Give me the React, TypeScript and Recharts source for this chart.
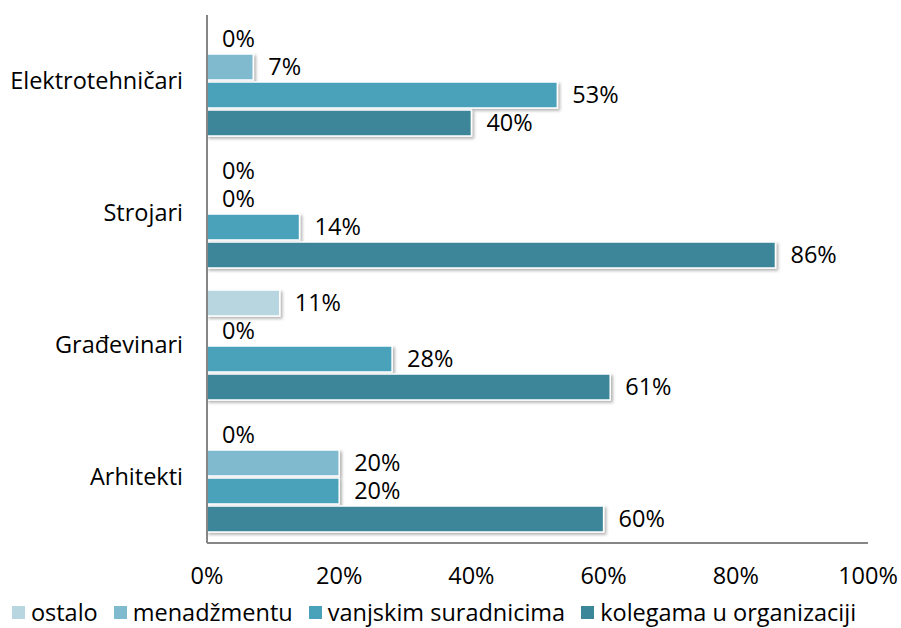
import React from "react";
import { BarChart, Bar, XAxis, YAxis, Legend, LabelList } from "recharts";

const categories = ["Elektrotehničari", "Strojari", "Građevinari", "Arhitekti"];
const ostalo = [0, 0, 11, 0];
const menadzmentu = [7, 0, 0, 20];
const vanjskim = [53, 14, 28, 20];
const kolegama = [40, 86, 61, 60];
const xTicks = [0, 20, 40, 60, 80, 100];

const series = [
  { key: "ostalo", name: "ostalo", color: "#B7D6E0" },
  { key: "menadzmentu", name: "menadžmentu", color: "#7FBACE" },
  { key: "vanjskim", name: "vanjskim suradnicima", color: "#4AA2BA" },
  { key: "kolegama", name: "kolegama u organizaciji", color: "#3C8699" },
];

const data = categories.map((c, i) => ({
  name: c,
  ostalo: ostalo[i],
  menadzmentu: menadzmentu[i],
  vanjskim: vanjskim[i],
  kolegama: kolegama[i],
}));

const FONT = "'Open Sans', sans-serif";
const FS = 23.5;

const ShadowBar = (props: any) => {
  const { x, y, width, height, fill } = props;
  if (!width || width <= 0) return null;
  return (
    <rect
      x={x}
      y={y}
      width={width}
      height={height}
      fill={fill}
      stroke="#ffffff"
      strokeWidth={1.5}
      filter="url(#barShadow)"
    />
  );
};

const LegendContent = () => (
  <div
    style={{
      display: "flex",
      justifyContent: "center",
      alignItems: "center",
      fontFamily: FONT,
      fontSize: FS,
      lineHeight: "28px",
      color: "#000",
      gap: 16,
      whiteSpace: "nowrap",
      marginTop: 2,
    }}
  >
    {series.map((s) => (
      <span key={s.key} style={{ display: "flex", alignItems: "center" }}>
        <span
          style={{ display: "inline-block", width: 13, height: 13, background: s.color, marginRight: 6 }}
        />
        {s.name}
      </span>
    ))}
  </div>
);

export default function App() {
  return (
    <div style={{ position: "absolute", left: 0, top: 0, background: "#fff" }}>
      <BarChart
        width={901}
        height={628}
        data={data}
        layout="vertical"
        margin={{ top: 15, right: 33, bottom: 2, left: 0 }}
        barSize={26}
        barGap={2}
      >
        <defs>
          <filter id="barShadow" x="-10%" y="-30%" width="130%" height="180%">
            <feDropShadow dx="2" dy="2" stdDeviation="1.5" floodColor="#000" floodOpacity="0.3" />
          </filter>
        </defs>
        <XAxis
          type="number"
          domain={[0, 100]}
          ticks={xTicks}
          tickFormatter={(v) => `${v}%`}
          axisLine={{ stroke: "#868686", strokeWidth: 2 }}
          tickLine={false}
          tickSize={0}
          tickMargin={24}
          height={53}
          tick={{ fill: "#000", fontSize: FS, fontFamily: FONT }}
        />
        <YAxis
          type="category"
          dataKey="name"
          width={207}
          axisLine={{ stroke: "#868686", strokeWidth: 2 }}
          tickLine={false}
          tickSize={0}
          tickMargin={24}
          tick={{ fill: "#000", fontSize: FS, fontFamily: FONT }}
        />
        <Legend verticalAlign="bottom" height={30} content={<LegendContent />} />
        {series.map((s) => (
          <Bar
            key={s.key}
            dataKey={s.key}
            name={s.name}
            fill={s.color}
            shape={<ShadowBar />}
            isAnimationActive={false}
          >
            <LabelList
              dataKey={s.key}
              position="right"
              offset={15}
              formatter={(v: any) => `${v}%`}
              style={{ fill: "#000", fontSize: FS, fontFamily: FONT }}
            />
          </Bar>
        ))}
      </BarChart>
    </div>
  );
}
